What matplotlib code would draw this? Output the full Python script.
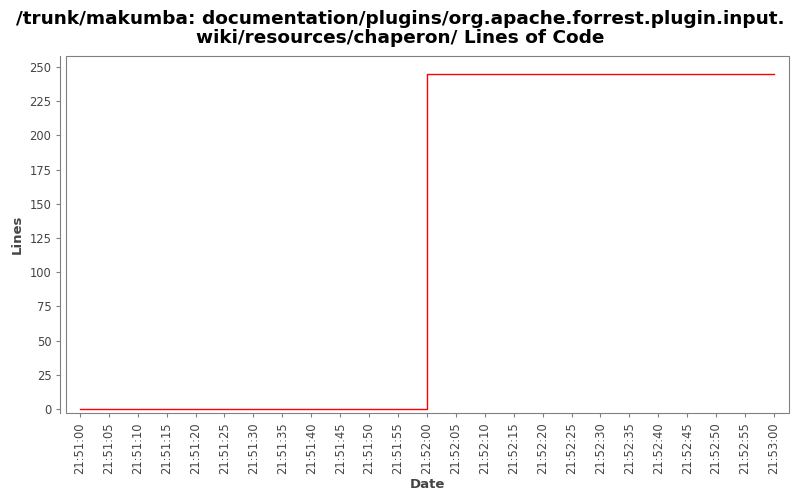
import datetime as dt
import matplotlib
matplotlib.use("Agg")
import matplotlib.pyplot as plt
import matplotlib.dates as mdates
from matplotlib.patches import Rectangle

title = "/trunk/makumba: documentation/plugins/org.apache.forrest.plugin.input.\nwiki/resources/chaperon/ Lines of Code"
times = ["21:51:00", "21:52:00", "21:53:00"]
lines = [0, 245, 245]
y_ticks = [0, 25, 50, 75, 100, 125, 150, 175, 200, 225, 250]

base = dt.datetime(2000, 1, 1)
def to_dt(s):
    h, m, sec = map(int, s.split(":"))
    return base.replace(hour=h, minute=m, second=sec)

xs = [to_dt(t) for t in times]

fig = plt.figure(figsize=(8, 5), dpi=100)
W, H = 800, 500
left, right, top, bottom = 66, 789, 56, 413
ax = fig.add_axes([left / W, 1 - bottom / H, (right - left) / W, (bottom - top) / H])

ax.plot(xs, lines, color="#ff0000", lw=1.0, drawstyle="steps-post")

ax.set_xlim(xs[0] - dt.timedelta(seconds=2.4), xs[-1] + dt.timedelta(seconds=2.6))
ax.set_ylim(-2.9, 258)
ax.set_yticks(y_ticks)

ax.xaxis.set_major_locator(mdates.SecondLocator(bysecond=range(0, 60, 5)))
ax.xaxis.set_major_formatter(mdates.DateFormatter("%H:%M:%S"))
for lab in ax.get_xticklabels():
    lab.set_rotation(90)

gray = "#808080"
for name in ["top", "right", "bottom"]:
    ax.spines[name].set_visible(False)
ax.spines["left"].set_color(gray)
ax.spines["left"].set_linewidth(0.8)
ax.spines["left"].set_position(("outward", 4))
ax.add_patch(Rectangle((0, 0), 1, 1, transform=ax.transAxes, fill=False,
                       edgecolor=gray, lw=0.8, clip_on=False))

ax.tick_params(axis="both", colors=gray, labelcolor="#444444", labelsize=8.3, length=3, width=0.8)

ax.set_xlabel("Date", fontsize=9.5, fontweight="bold", color="#444444", labelpad=3)
ax.set_ylabel("Lines", fontsize=9.5, fontweight="bold", color="#444444", labelpad=4)

fig.text(0.5, 1 - 10 / H, title, ha="center", va="top", fontsize=13.3, fontweight="bold",
         linespacing=1.05)

fig.savefig("out.png", dpi=100)
